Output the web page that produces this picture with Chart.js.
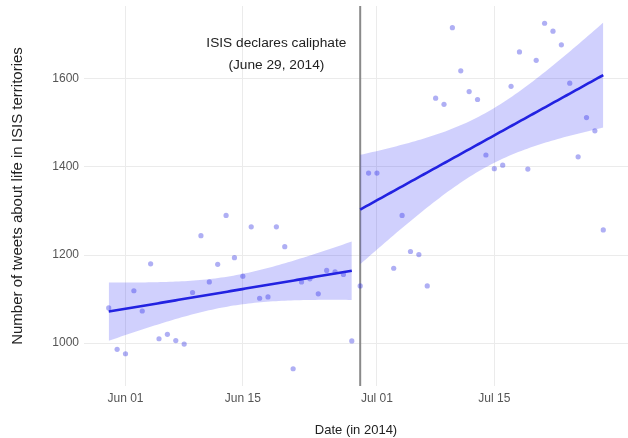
<!DOCTYPE html>
<html>
<head>
<meta charset="utf-8">
<script src="https://cdn.jsdelivr.net/npm/chart.js@4/dist/chart.umd.min.js"></script>
<style>
  body { margin: 0; background: #fff; }
  #wrap { width: 628px; height: 438px; }
</style>
</head>
<body>
<div id="wrap"><canvas id="tweets-canvas" width="628" height="438"></canvas></div>
<script>
// Datos (tweets por dia, 2014)
const tweetDates = [
  '2014-05-30', '2014-05-31', '2014-06-01', '2014-06-02', '2014-06-03', '2014-06-04', '2014-06-05', '2014-06-06',
  '2014-06-07', '2014-06-08', '2014-06-09', '2014-06-10', '2014-06-11', '2014-06-12', '2014-06-13', '2014-06-14',
  '2014-06-15', '2014-06-16', '2014-06-17', '2014-06-18', '2014-06-19', '2014-06-20', '2014-06-21', '2014-06-22',
  '2014-06-23', '2014-06-24', '2014-06-25', '2014-06-26', '2014-06-27', '2014-06-28',
  '2014-06-29', '2014-06-30', '2014-07-01', '2014-07-03', '2014-07-04', '2014-07-05', '2014-07-06', '2014-07-07',
  '2014-07-08', '2014-07-09', '2014-07-10', '2014-07-11', '2014-07-12', '2014-07-13', '2014-07-14', '2014-07-15',
  '2014-07-16', '2014-07-17', '2014-07-18', '2014-07-19', '2014-07-20', '2014-07-21', '2014-07-22', '2014-07-23',
  '2014-07-24', '2014-07-25', '2014-07-26', '2014-07-27', '2014-07-28'
];
const tweetCounts = [
  1080, 986, 976, 1119, 1073, 1180, 1010, 1020,
  1006, 998, 1115, 1244, 1139, 1179, 1290, 1194,
  1152, 1264, 1102, 1105, 1264, 1219, 942, 1139,
  1146, 1112, 1165, 1162, 1156, 1005,
  1130, 1386, 1386, 1170, 1290, 1208, 1201, 1130,
  1556, 1542, 1716, 1618, 1571, 1553, 1427, 1396,
  1404, 1583, 1661, 1395, 1642, 1726, 1708, 1677,
  1590, 1423, 1512, 1482, 1257
];
const caliphateDate = '2014-06-29';
const caliphateLabel = ['ISIS declares caliphate', '(June 29, 2014)'];
const labelDate = '2014-06-19';
const labelCount = 1655;

const tickDates = ['2014-06-01', '2014-06-15', '2014-07-01', '2014-07-15'];
const tickLabels = ['Jun 01', 'Jun 15', 'Jul 01', 'Jul 15'];
const yTicks = [1000, 1200, 1400, 1600];

// dias desde el 1 de junio
const DAY = 86400000;
const origin = Date.parse('2014-06-01');
const toDay = d => (Date.parse(d) - origin) / DAY;

const points = tweetDates.map((d, i) => ({ x: toDay(d), y: tweetCounts[i] }));
const cutDay = toDay(caliphateDate);
const before = points.filter(p => p.x < cutDay);
const after = points.filter(p => p.x >= cutDay);

// ajuste lineal + intervalo de confianza 95% (como geom_smooth(method = 'lm'))
function fitLine(pts) {
  const n = pts.length;
  const mx = pts.reduce((s, p) => s + p.x, 0) / n;
  const my = pts.reduce((s, p) => s + p.y, 0) / n;
  let sxx = 0, sxy = 0;
  pts.forEach(p => { sxx += (p.x - mx) ** 2; sxy += (p.x - mx) * (p.y - my); });
  const b = sxy / sxx;
  const a = my - b * mx;
  let sse = 0;
  pts.forEach(p => { sse += (p.y - a - b * p.x) ** 2; });
  const s = Math.sqrt(sse / (n - 2));
  const t = 2.05;
  const x0 = pts[0].x, x1 = pts[n - 1].x;
  const line = [], lower = [], upper = [];
  for (let k = 0; k <= 80; k++) {
    const x = x0 + (x1 - x0) * k / 80;
    const yh = a + b * x;
    const se = s * Math.sqrt(1 / n + (x - mx) ** 2 / sxx);
    line.push({ x: x, y: yh });
    lower.push({ x: x, y: yh - t * se });
    upper.push({ x: x, y: yh + t * se });
  }
  return { line, lower, upper };
}

const fitBefore = fitLine(before);
const fitAfter = fitLine(after);

// rango con 5% de expansion como ggplot
const xs = points.map(p => p.x), ys = points.map(p => p.y);
const xMin = Math.min(...xs), xMax = Math.max(...xs);
const yMin = Math.min(...ys), yMax = Math.max(...ys);
const xPad = (xMax - xMin) * 0.05, yPad = (yMax - yMin) * 0.05;

const bandColor = 'rgba(40, 40, 245, 0.22)';
const lineColor = '#2020dc';
const gridColor = '#ebebeb';

const bandSet = (data, fill) => ({
  data: data, showLine: true, pointRadius: 0, borderWidth: 0,
  backgroundColor: bandColor, borderColor: 'rgba(0,0,0,0)', fill: fill
});
const fitSet = data => ({
  data: data, showLine: true, pointRadius: 0, borderWidth: 2.6,
  borderColor: lineColor, fill: false
});

const caliphatePlugin = {
  id: 'caliphate',
  beforeDatasetsDraw(chart) {
    const { ctx, chartArea, scales } = chart;
    const x = scales.x.getPixelForValue(cutDay);
    ctx.save();
    ctx.strokeStyle = '#8a8a8a';
    ctx.lineWidth = 2;
    ctx.beginPath();
    ctx.moveTo(x, chartArea.top);
    ctx.lineTo(x, chartArea.bottom);
    ctx.stroke();
    ctx.restore();
  },
  afterDatasetsDraw(chart) {
    const { ctx, scales } = chart;
    const x = scales.x.getPixelForValue(toDay(labelDate));
    const y = scales.y.getPixelForValue(labelCount);
    ctx.save();
    ctx.fillStyle = '#222';
    ctx.font = '13.7px "Liberation Sans", Arial, sans-serif';
    ctx.textAlign = 'center';
    ctx.textBaseline = 'middle';
    ctx.fillText(caliphateLabel[0], x, y - 11);
    ctx.fillText(caliphateLabel[1], x, y + 11);
    ctx.restore();
  }
};

const ctx = document.getElementById('tweets-canvas').getContext('2d');
const chart = new Chart(ctx, {
  type: 'scatter',
  data: {
    datasets: [
      bandSet(fitBefore.lower, false),
      bandSet(fitBefore.upper, '-1'),
      bandSet(fitAfter.lower, false),
      bandSet(fitAfter.upper, '-1'),
      {
        data: points, pointRadius: 2.6, borderWidth: 0,
        backgroundColor: 'rgba(45, 45, 225, 0.38)'
      },
      fitSet(fitBefore.line),
      fitSet(fitAfter.line)
    ]
  },
  options: {
    responsive: false,
    animation: false,
    layout: { autoPadding: false, padding: { left: 0, right: 0, top: 6, bottom: 0 } },
    plugins: { legend: { display: false }, tooltip: { enabled: false } },
    scales: {
      x: {
        type: 'linear',
        min: xMin - xPad, max: xMax + xPad,
        afterBuildTicks: s => { s.ticks = tickDates.map(d => ({ value: toDay(d) })); },
        afterFit: s => { s.height = 52; s.paddingLeft = 0; s.paddingRight = 0; },
        ticks: {
          callback: (v, i) => tickLabels[i],
          color: '#555', font: { family: 'Liberation Sans', size: 12 },
          padding: 5, maxRotation: 0
        },
        grid: { color: gridColor, drawTicks: false },
        border: { display: false },
        title: {
          display: true, text: 'Date (in 2014)', color: '#222',
          font: { family: 'Liberation Sans', size: 13 }, padding: { top: 0, bottom: 0 }
        }
      },
      y: {
        min: yMin - yPad, max: yMax + yPad,
        afterBuildTicks: s => { s.ticks = yTicks.map(v => ({ value: v })); },
        afterFit: s => { s.width = 84; s.paddingTop = 0; s.paddingBottom = 0; },
        ticks: {
          callback: v => String(v),
          color: '#555', font: { family: 'Liberation Sans', size: 12 }, padding: 5
        },
        grid: { color: gridColor, drawTicks: false },
        border: { display: false },
        title: {
          display: true, text: 'Number of tweets about life in ISIS territories', color: '#222',
          font: { family: 'Liberation Sans', size: 15 }, padding: { top: 9, bottom: 0 }
        }
      }
    }
  },
  plugins: [caliphatePlugin]
});
</script>
</body>
</html>
